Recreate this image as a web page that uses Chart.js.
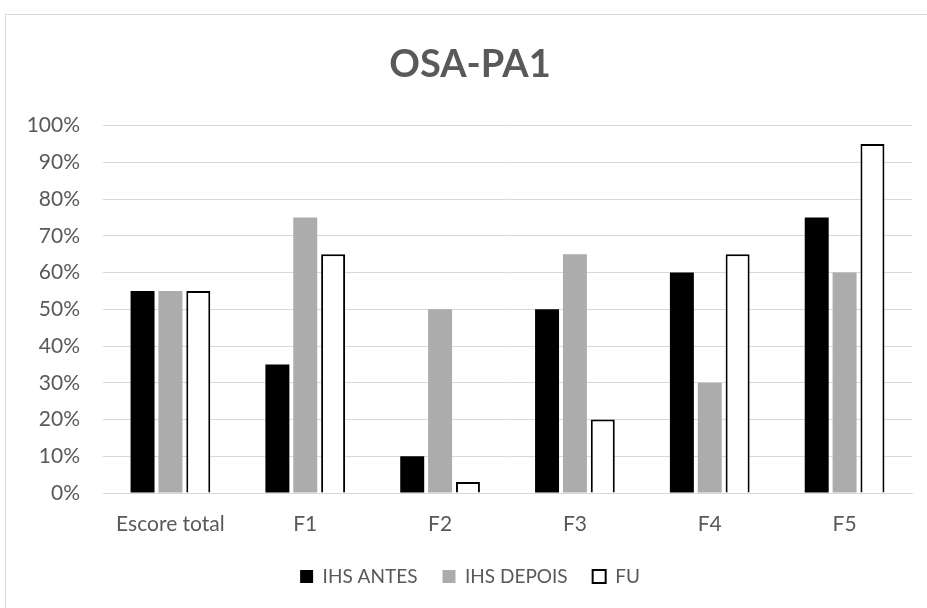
<!DOCTYPE html>
<html>
<head>
<meta charset="utf-8">
<script src="https://cdn.jsdelivr.net/npm/chart.js@4/dist/chart.umd.min.js"></script>
<style>
  html, body { margin: 0; padding: 0; background: #fff; overflow: hidden; }
  #frame {
    position: absolute; left: 5px; top: 14px;
    width: 940px; height: 620px;
    border: 1px solid #d9d9d9;
  }
  #wrap { position: absolute; left: 0; top: 0; width: 927px; height: 608px; }
</style>
</head>
<body>
<div id="frame"></div>
<div id="wrap"><canvas id="chart"></canvas></div>
<script>
const categories = ['Escore total', 'F1', 'F2', 'F3', 'F4', 'F5'];
const ihsAntes = [55, 35, 10, 50, 60, 75];
const ihsDepois = [55, 75, 50, 65, 30, 60];
const fu = [55, 65, 3, 20, 65, 95];
const yTicks = [0, 10, 20, 30, 40, 50, 60, 70, 80, 90, 100];

const textColor = '#595959';
const font = 'Lato, "Open Sans", sans-serif';

// fixed box sizes so the plot lands where the original one sits
const yAxisWidth = 75;
const xAxisHeight = 49;
const legendHeight = 66;

const legendFit = {
  id: 'legendFit',
  beforeLayout(chart) {
    const legend = chart.legend;
    if (!legend || legend._fitWrapped) return;
    const fit = legend.fit;
    legend.fit = function() {
      fit.call(this);
      this.height = legendHeight;
    };
    legend._fitWrapped = true;
  }
};

const ctx = document.getElementById('chart').getContext('2d');

/* eslint no-new: 0 */
new Chart(ctx, {
  type: 'bar',
  data: {
    labels: categories,
    datasets: [
      {
        label: 'IHS ANTES',
        data: ihsAntes,
        backgroundColor: '#000000',
        borderWidth: 0
      },
      {
        label: 'IHS DEPOIS',
        data: ihsDepois,
        backgroundColor: '#acacac',
        borderWidth: 0
      },
      {
        label: 'FU',
        data: fu,
        backgroundColor: '#ffffff',
        borderColor: '#000000',
        borderWidth: 2
      }
    ]
  },
  plugins: [legendFit],
  options: {
    responsive: true,
    maintainAspectRatio: false,
    animation: false,
    categoryPercentage: 0.62,
    barPercentage: 0.86,
    layout: { padding: { left: 28, right: 15, top: 42, bottom: 0 } },
    plugins: {
      title: {
        display: true,
        text: 'OSA-PA1',
        color: textColor,
        font: { family: font, size: 38, weight: 'bold' },
        padding: { top: 0, bottom: 38 }
      },
      legend: {
        position: 'bottom',
        labels: {
          color: textColor,
          font: { family: font, size: 19 },
          boxWidth: 13,
          boxHeight: 13,
          padding: 25
        }
      },
      tooltip: { enabled: false }
    },
    scales: {
      x: {
        grid: { display: false, drawTicks: false },
        border: { color: '#d9d9d9' },
        ticks: {
          color: textColor,
          font: { family: font, size: 21 },
          padding: 19
        },
        afterFit(axis) {
          axis.height = xAxisHeight;
        }
      },
      y: {
        min: 0,
        max: 100,
        afterBuildTicks(axis) {
          axis.ticks = yTicks.map(v => ({ value: v }));
        },
        grid: { color: '#d9d9d9', drawTicks: false },
        border: { display: false },
        ticks: {
          color: textColor,
          font: { family: font, size: 21 },
          padding: 23,
          callback: v => v + '%'
        },
        afterFit(axis) {
          axis.width = yAxisWidth;
        }
      }
    }
  }
});
</script>
</body>
</html>
